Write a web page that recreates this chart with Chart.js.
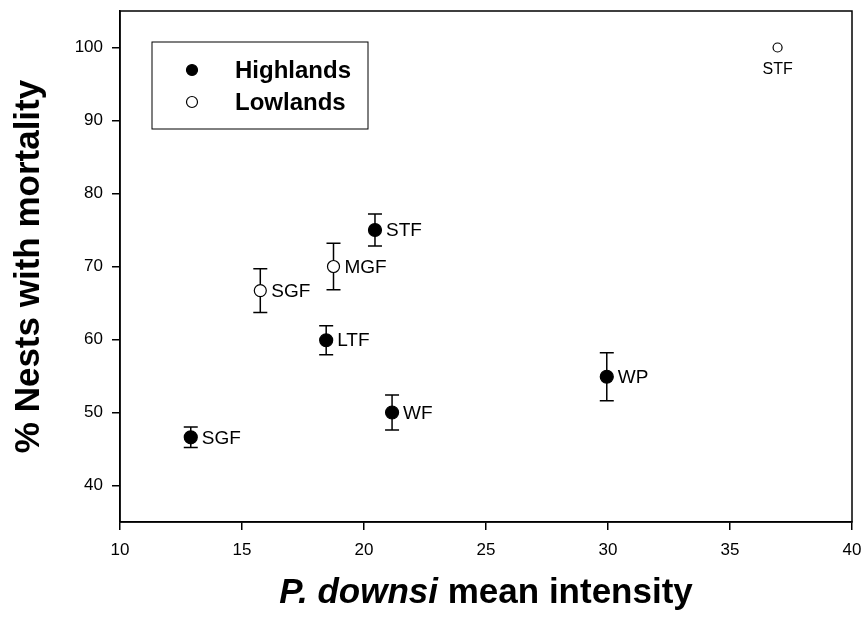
<!DOCTYPE html>
<html>
<head>
<meta charset="utf-8">
<script src="https://cdn.jsdelivr.net/npm/chart.js@4"></script>
<style>
  body { margin: 0; background: #fff; }
  #wrap { width: 866px; height: 621px; position: relative; }
</style>
</head>
<body>
<div id="wrap"><canvas id="nestChart"></canvas></div>
<script>
// ---- data ----
const highlandSites = ['SGF', 'LTF', 'WF', 'STF', 'WP'];
const highlandIntensity = [12.9, 18.45, 21.15, 20.45, 29.95];
const highlandMortality = [46.6, 59.9, 50.0, 75.0, 54.9];
const highlandErr = [1.4, 2.0, 2.4, 2.2, 3.3];

const lowlandSites = ['SGF', 'MGF', 'STF'];
const lowlandIntensity = [15.75, 18.75, 36.95];
const lowlandMortality = [66.7, 70.0, 100.0];
const lowlandErr = [3.0, 3.2, 0];

const xTicks = [10, 15, 20, 25, 30, 35, 40];
const yTicks = [40, 50, 60, 70, 80, 90, 100];

const FONT = "'Liberation Sans', Arial, sans-serif";

function toPoints(xs, ys) {
    return xs.map((x, i) => ({ x: x, y: ys[i] }));
}

// error bars, drawn behind the markers
const errorBars = {
    id: 'errorBars',
    beforeDatasetsDraw(chart) {
        const ctx = chart.ctx;
        const ys = chart.scales.y;
        ctx.save();
        ctx.strokeStyle = '#000';
        ctx.lineWidth = 1.5;
        chart.data.datasets.forEach((ds, di) => {
            const meta = chart.getDatasetMeta(di);
            meta.data.forEach((pt, i) => {
                const e = ds.errors[i];
                if (!e) return;
                const top = ys.getPixelForValue(ds.data[i].y + e);
                const bot = ys.getPixelForValue(ds.data[i].y - e);
                ctx.beginPath();
                ctx.moveTo(pt.x, top); ctx.lineTo(pt.x, bot);
                ctx.moveTo(pt.x - 7, top); ctx.lineTo(pt.x + 7, top);
                ctx.moveTo(pt.x - 7, bot); ctx.lineTo(pt.x + 7, bot);
                ctx.stroke();
            });
        });
        ctx.restore();
    }
};

// site labels next to each point
const siteLabels = {
    id: 'siteLabels',
    afterDatasetsDraw(chart) {
        const ctx = chart.ctx;
        ctx.save();
        ctx.fillStyle = '#000';
        chart.data.datasets.forEach((ds, di) => {
            const meta = chart.getDatasetMeta(di);
            meta.data.forEach((pt, i) => {
                const name = ds.sites[i];
                ctx.textBaseline = 'middle';
                if (ds.below && ds.below.includes(i)) {
                    ctx.font = '16px ' + FONT;
                    ctx.textAlign = 'center';
                    ctx.fillText(name, pt.x, pt.y + 22);
                } else {
                    ctx.font = '19px ' + FONT;
                    ctx.textAlign = 'left';
                    ctx.fillText(name, pt.x + 11, pt.y + 1);
                }
            });
        });
        ctx.restore();
    }
};

// frame, legend box, x-axis title with italic species name
const frameAndLegend = {
    id: 'frameAndLegend',
    beforeDraw(chart) {
        const ctx = chart.ctx;
        ctx.save();
        ctx.fillStyle = '#fff';
        ctx.fillRect(0, 0, chart.width, chart.height);
        ctx.restore();
    },
    afterDraw(chart) {
        const ctx = chart.ctx;
        const a = chart.chartArea;
        ctx.save();
        ctx.strokeStyle = '#000';
        ctx.lineWidth = 1.5;
        ctx.strokeRect(a.left, a.top, a.right - a.left, a.bottom - a.top);

        // legend
        const lx = a.left + 32, ly = a.top + 31;
        ctx.lineWidth = 1;
        ctx.strokeRect(lx, ly, 216, 87);
        chart.data.datasets.forEach((ds, i) => {
            const cy = ly + 28 + i * 32;
            ctx.beginPath();
            ctx.arc(lx + 40, cy, 5.5, 0, Math.PI * 2);
            ctx.fillStyle = ds.backgroundColor;
            ctx.fill();
            ctx.lineWidth = 1.2;
            ctx.stroke();
            ctx.fillStyle = '#000';
            ctx.font = 'bold 24px ' + FONT;
            ctx.textAlign = 'left';
            ctx.textBaseline = 'middle';
            ctx.fillText(ds.label, lx + 83, cy + 1);
        });

        // x title
        const part1 = 'P. downsi';
        const part2 = ' mean intensity';
        const f1 = 'italic bold 35px ' + FONT;
        const f2 = 'bold 35px ' + FONT;
        ctx.font = f1;
        const w1 = ctx.measureText(part1).width;
        ctx.font = f2;
        const w2 = ctx.measureText(part2).width;
        const cx = (a.left + a.right) / 2;
        const ty = 593;
        ctx.textBaseline = 'middle';
        ctx.textAlign = 'left';
        ctx.font = f1;
        ctx.fillText(part1, cx - (w1 + w2) / 2, ty);
        ctx.font = f2;
        ctx.fillText(part2, cx - (w1 + w2) / 2 + w1, ty);
        ctx.restore();
    }
};

const ctx = document.getElementById('nestChart').getContext('2d');

new Chart(ctx, {
    type: 'scatter',
    data: {
        datasets: [
            {
                label: 'Highlands',
                data: toPoints(highlandIntensity, highlandMortality),
                errors: highlandErr,
                sites: highlandSites,
                backgroundColor: '#000',
                borderColor: '#000',
                borderWidth: 1.2,
                pointRadius: 6.5,
                pointHoverRadius: 6.5
            },
            {
                label: 'Lowlands',
                data: toPoints(lowlandIntensity, lowlandMortality),
                errors: lowlandErr,
                sites: lowlandSites,
                below: [2],
                backgroundColor: '#fff',
                borderColor: '#000',
                borderWidth: 1.2,
                pointRadius: [6, 6, 4.5],
                pointHoverRadius: [6, 6, 4.5]
            }
        ]
    },
    options: {
        responsive: true,
        maintainAspectRatio: false,
        animation: false,
        events: [],
        layout: { padding: { top: 11, right: 14, left: 0, bottom: 0 } },
        plugins: {
            legend: { display: false },
            tooltip: { enabled: false }
        },
        scales: {
            x: {
                type: 'linear',
                min: 10,
                max: 40,
                afterBuildTicks: s => { s.ticks = xTicks.map(v => ({ value: v })); },
                afterFit: s => {
                    s.height = 99;
                    s.paddingLeft = 0;
                    s.paddingRight = 0;
                },
                ticks: {
                    color: '#000',
                    font: { family: FONT, size: 17 },
                    padding: 10,
                    maxRotation: 0
                },
                grid: {
                    drawOnChartArea: false,
                    drawTicks: true,
                    tickLength: 8,
                    color: '#000',
                    lineWidth: 1.5
                },
                border: { display: true, color: '#000', width: 1.5 }
            },
            y: {
                type: 'linear',
                min: 35,
                max: 105,
                afterBuildTicks: s => { s.ticks = yTicks.map(v => ({ value: v })); },
                afterFit: s => {
                    s.width = 120;
                    s.paddingTop = 0;
                    s.paddingBottom = 0;
                },
                ticks: {
                    color: '#000',
                    font: { family: FONT, size: 17 },
                    padding: 9
                },
                grid: {
                    drawOnChartArea: false,
                    drawTicks: true,
                    tickLength: 8,
                    color: '#000',
                    lineWidth: 1.5
                },
                border: { display: true, color: '#000', width: 1.5 },
                title: {
                    display: true,
                    text: '% Nests with mortality',
                    color: '#000',
                    font: { family: FONT, size: 35, weight: 'bold' },
                    padding: { top: 8, bottom: 0 }
                }
            }
        }
    },
    plugins: [errorBars, siteLabels, frameAndLegend]
});
</script>
</body>
</html>
